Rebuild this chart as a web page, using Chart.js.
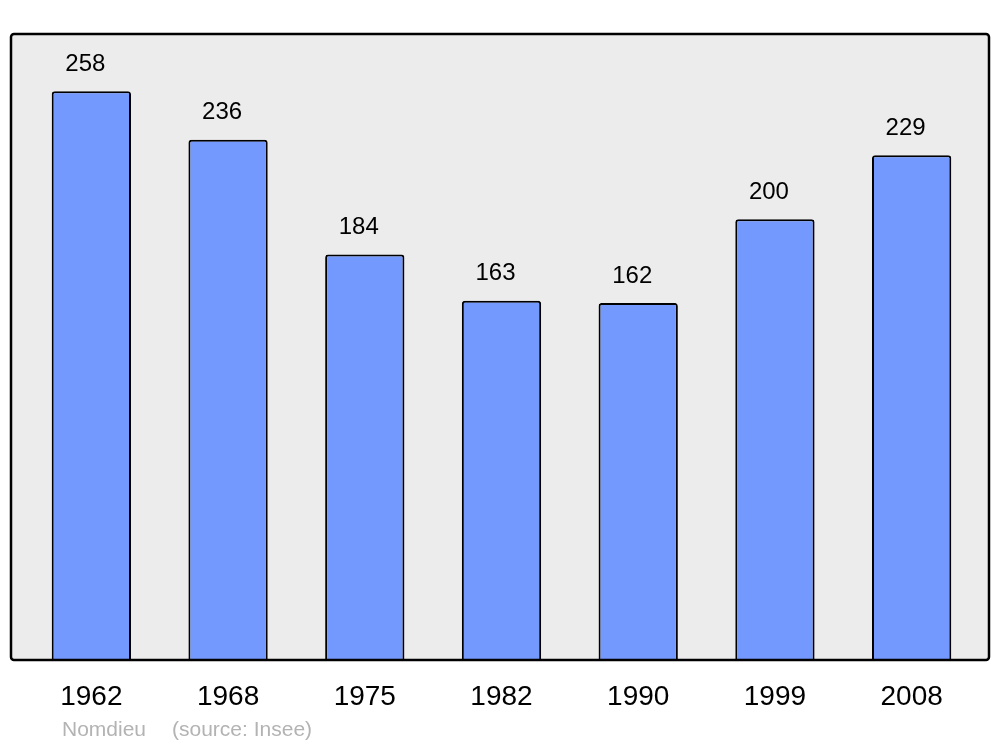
<!DOCTYPE html>
<html>
<head>
<meta charset="utf-8">
<script src="https://cdn.jsdelivr.net/npm/chart.js@4"></script>
<style>
  html, body { margin: 0; padding: 0; background: #fff; }
  #wrap { width: 1000px; height: 747px; }
</style>
</head>
<body>
<div id="wrap"><canvas id="popChart"></canvas></div>
<script>
// population per census year
const years = ['1962', '1968', '1975', '1982', '1990', '1999', '2008'];
const population = [258, 236, 184, 163, 162, 200, 229];
const yMax = 284;

const FONT = '"Liberation Sans", Arial, sans-serif';

// grey panel behind the bars, black frame drawn on top
const panel = {
  id: 'panel',
  beforeDatasetsDraw(chart) {
    const ctx = chart.ctx, a = chart.chartArea;
    ctx.save();
    ctx.fillStyle = '#ececec';
    ctx.beginPath();
    ctx.roundRect(11, a.top, 978, a.bottom - a.top, 3);
    ctx.fill();
    ctx.restore();
  },
  afterDatasetsDraw(chart) {
    const ctx = chart.ctx, a = chart.chartArea;
    ctx.save();
    ctx.strokeStyle = '#000';
    ctx.lineWidth = 2.5;
    ctx.beginPath();
    ctx.roundRect(11, a.top, 978, a.bottom - a.top, 3);
    ctx.stroke();

    // value above each bar (sits a little left of centre in the original)
    ctx.fillStyle = '#000';
    ctx.font = '24px ' + FONT;
    ctx.textAlign = 'center';
    ctx.textBaseline = 'middle';
    chart.getDatasetMeta(0).data.forEach((bar, i) => {
      ctx.fillText(String(population[i]), bar.x - 6, bar.y - 27);
    });

    // footer
    ctx.fillStyle = '#b3b3b3';
    ctx.font = '21px ' + FONT;
    ctx.textAlign = 'left';
    ctx.fillText('Nomdieu', 62, 730);
    ctx.fillText('(source: Insee)', 172, 730);
    ctx.restore();
  }
};

new Chart(document.getElementById('popChart'), {
  type: 'bar',
  data: {
    labels: years,
    datasets: [{
      data: population,
      backgroundColor: '#7399ff',
      borderColor: '#000',
      borderWidth: 2,
      borderRadius: 3,
      barPercentage: 0.58,
      categoryPercentage: 1
    }]
  },
  options: {
    responsive: true,
    maintainAspectRatio: false,
    animation: false,
    layout: { padding: { left: 23, right: 20, top: 34, bottom: 0 } },
    plugins: {
      legend: { display: false },
      tooltip: { enabled: false }
    },
    scales: {
      x: {
        grid: { display: false, drawTicks: false },
        border: { display: false },
        ticks: { color: '#000', font: { family: FONT, size: 28 }, padding: 20, maxRotation: 0 },
        afterFit(scale) { scale.height = 87; }
      },
      y: {
        display: false,
        min: 0,
        max: yMax
      }
    }
  },
  plugins: [panel]
});
</script>
</body>
</html>
